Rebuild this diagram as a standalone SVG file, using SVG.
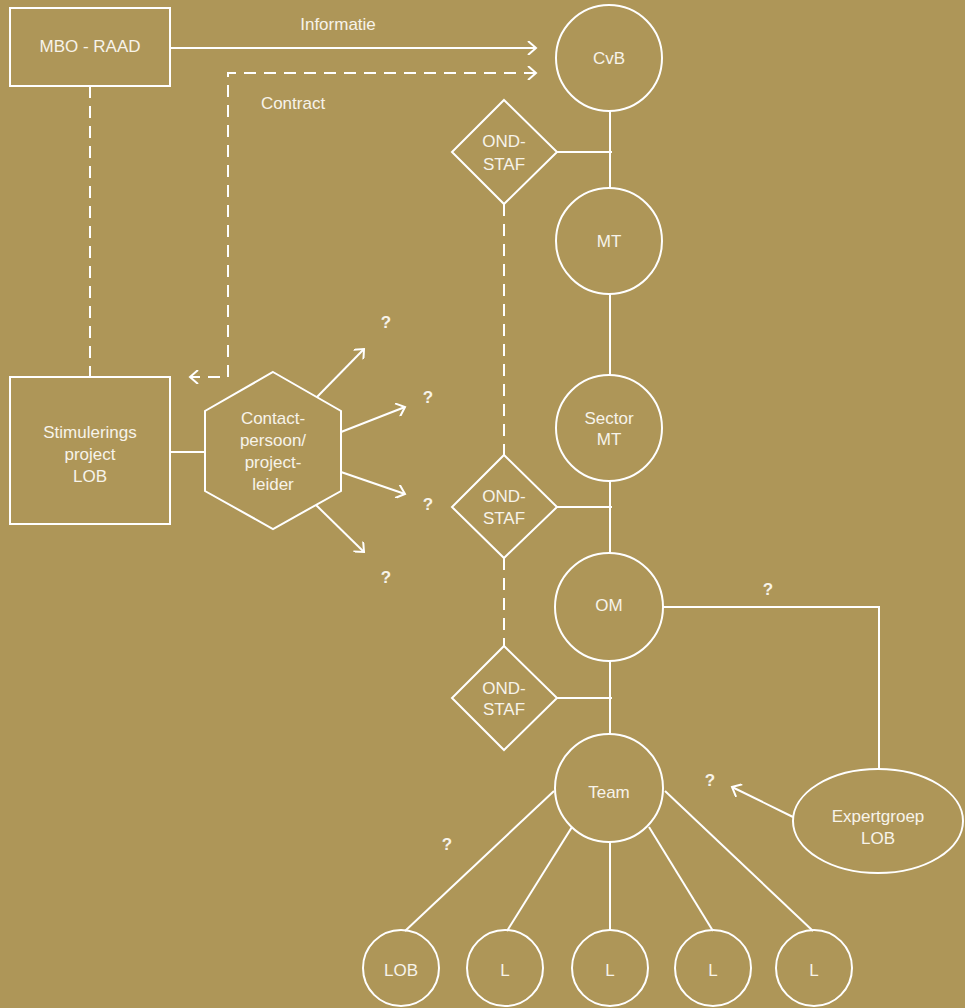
<svg xmlns="http://www.w3.org/2000/svg" width="965" height="1008" viewBox="0 0 965 1008">
<style>
.s{fill:none;stroke:#fff;stroke-width:2}
.d{fill:none;stroke:#fff;stroke-width:2;stroke-dasharray:12 8}
.t{font-family:"Liberation Sans",Arial,sans-serif;font-size:17px;fill:#f7f3ea;text-anchor:middle}
.q{font-family:"Liberation Sans",Arial,sans-serif;font-size:17px;font-weight:bold;fill:#f7f3ea;text-anchor:middle}
</style>
<defs>
<marker id="ah" markerUnits="userSpaceOnUse" markerWidth="14" markerHeight="14" viewBox="0 0 14 14" refX="12" refY="7" orient="auto-start-reverse">
<path d="M4,0 L12,7 L4,14" fill="none" stroke="#fff" stroke-width="2" stroke-dasharray="none"/>
</marker>
</defs>
<rect width="965" height="1008" fill="#ae9658"/>
<g id="connectors">
<line class="s" x1="170" y1="48" x2="536" y2="48" marker-end="url(#ah)"/>
<path class="d" d="M536,73 H228 V377 H190" marker-start="url(#ah)" marker-end="url(#ah)"/>
<line class="d" x1="90" y1="86" x2="90" y2="377"/>
<line class="s" x1="170" y1="452" x2="205" y2="452"/>
<line class="s" x1="317" y1="397" x2="364" y2="349" marker-end="url(#ah)"/>
<line class="s" x1="341" y1="432" x2="405" y2="407" marker-end="url(#ah)"/>
<line class="s" x1="341" y1="472" x2="405" y2="494" marker-end="url(#ah)"/>
<line class="s" x1="316" y1="505" x2="364" y2="552" marker-end="url(#ah)"/>
<line class="s" x1="610" y1="111" x2="610" y2="188"/>
<line class="s" x1="557" y1="152" x2="612" y2="152"/>
<line class="s" x1="610" y1="294" x2="610" y2="375"/>
<line class="s" x1="610" y1="481" x2="610" y2="553"/>
<line class="s" x1="557" y1="507" x2="612" y2="507"/>
<line class="s" x1="610" y1="661" x2="610" y2="735"/>
<line class="s" x1="557" y1="698" x2="612" y2="698"/>
<line class="d" x1="504" y1="204" x2="504" y2="455"/>
<line class="d" x1="504" y1="558" x2="504" y2="646"/>
<path class="s" d="M663,607 H879 V769"/>
<line class="s" x1="793" y1="817" x2="732" y2="787" marker-end="url(#ah)"/>
<line class="s" x1="554" y1="791" x2="405" y2="931"/>
<line class="s" x1="572" y1="827" x2="507" y2="931"/>
<line class="s" x1="610" y1="842" x2="610" y2="930"/>
<line class="s" x1="649" y1="827" x2="713" y2="931"/>
<line class="s" x1="665" y1="791" x2="813" y2="931"/>
</g>
<g id="labels">
<text class="t" x="338" y="30">Informatie</text>
<text class="t" x="293" y="109">Contract</text>
<text class="q" x="386" y="328">?</text>
<text class="q" x="428" y="403">?</text>
<text class="q" x="428" y="510">?</text>
<text class="q" x="386" y="583">?</text>
<text class="q" x="768" y="595">?</text>
<text class="q" x="710" y="786">?</text>
<text class="q" x="447" y="850">?</text>
</g>
<g id="mbo-raad"><rect class="s" x="10" y="8" width="160" height="78"/><text class="t" x="90" y="52">MBO - RAAD</text></g>
<g id="stimulerings"><rect class="s" x="10" y="377" width="160" height="147"/><text class="t" x="90" y="438">Stimulerings</text><text class="t" x="90" y="460">project</text><text class="t" x="90" y="482">LOB</text></g>
<g id="contactpersoon"><polygon class="s" points="273,372 341,411 341,491 273,529 205,491 205,411"/><text class="t" x="273" y="424">Contact-</text><text class="t" x="273" y="446">persoon/</text><text class="t" x="273" y="468">project-</text><text class="t" x="273" y="490">leider</text></g>
<g id="cvb"><circle class="s" cx="609" cy="58" r="53"/><text class="t" x="609" y="64">CvB</text></g>
<g id="ondstaf1"><polygon class="s" points="504,100 557,152 504,204 452,152"/><text class="t" x="504" y="147">OND-</text><text class="t" x="504" y="170">STAF</text></g>
<g id="mt"><circle class="s" cx="609" cy="241" r="53"/><text class="t" x="609" y="247">MT</text></g>
<g id="sector-mt"><circle class="s" cx="609" cy="428" r="53"/><text class="t" x="609" y="424">Sector</text><text class="t" x="609" y="445">MT</text></g>
<g id="ondstaf2"><polygon class="s" points="504,455 557,507 504,558 452,507"/><text class="t" x="504" y="502">OND-</text><text class="t" x="504" y="524">STAF</text></g>
<g id="om"><circle class="s" cx="609" cy="607" r="54"/><text class="t" x="609" y="611">OM</text></g>
<g id="ondstaf3"><polygon class="s" points="504,646 557,698 504,750 452,698"/><text class="t" x="504" y="694">OND-</text><text class="t" x="504" y="715">STAF</text></g>
<g id="team"><circle class="s" cx="609" cy="788" r="54"/><text class="t" x="609" y="798">Team</text></g>
<g id="expertgroep"><ellipse class="s" cx="878" cy="821" rx="85" ry="52"/><text class="t" x="878" y="822">Expertgroep</text><text class="t" x="878" y="844">LOB</text></g>
<g id="lob"><circle class="s" cx="401" cy="968" r="38"/><text class="t" x="401" y="976">LOB</text></g>
<g id="l1"><circle class="s" cx="505" cy="968" r="38"/><text class="t" x="505" y="976">L</text></g>
<g id="l2"><circle class="s" cx="610" cy="968" r="38"/><text class="t" x="610" y="976">L</text></g>
<g id="l3"><circle class="s" cx="713" cy="968" r="38"/><text class="t" x="713" y="976">L</text></g>
<g id="l4"><circle class="s" cx="814" cy="968" r="38"/><text class="t" x="814" y="976">L</text></g>
</svg>
